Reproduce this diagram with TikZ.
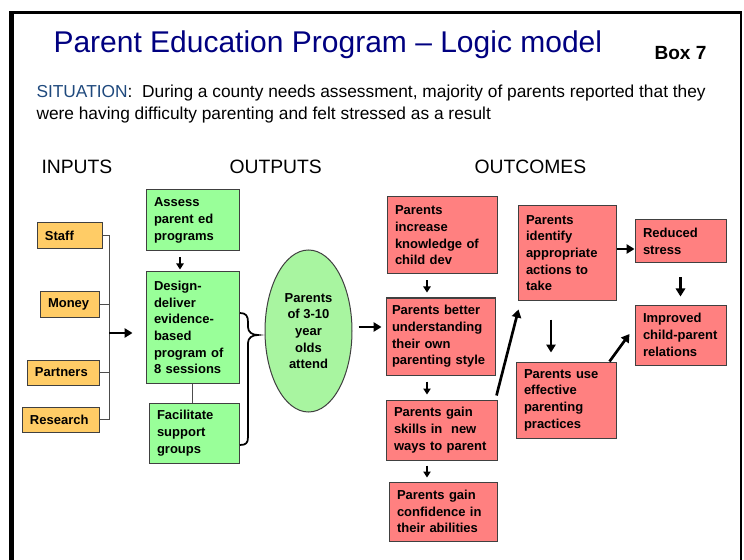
\documentclass[tikz,border=0pt]{standalone}
\usepackage{fontspec}
\setmainfont{Liberation Sans}
\usetikzlibrary{shapes.geometric,arrows.meta,calc}

\definecolor{titleblue}{RGB}{0,0,128}
\definecolor{sitblue}{RGB}{31,73,125}
\definecolor{inorange}{RGB}{255,204,102}
\definecolor{outgreen}{RGB}{153,255,153}
\definecolor{attgreen}{RGB}{168,245,160}
\definecolor{outred}{RGB}{255,128,128}

\tikzset{every picture/.style={line width=0.75pt}}
\tikzset{
  box/.style={draw=black!75, line width=0.75pt, inner xsep=6pt, inner ysep=0pt, align=left, font=\fontsize{9.75}{12.5}\selectfont\bfseries},
  inbox/.style={box, fill=inorange},
  greenbox/.style={box, fill=outgreen},
  redbox/.style={box, fill=outred},
  head/.style={anchor=base west, inner sep=0pt, font=\fontsize{14.5}{17}\selectfont},
  sit/.style={anchor=base west, inner sep=0pt, font=\fontsize{13}{16}\selectfont},
  bigarr/.style={-{Triangle[length=6pt,width=7pt]}, line width=2pt},
  smallarr/.style={-{Triangle[length=4.5pt,width=5.5pt]}, line width=1.3pt},
  link/.style={draw=black!70, line width=0.75pt},
}

\begin{document}
\begin{tikzpicture}[x=0.75pt,y=0.75pt,yscale=-1,xscale=1]
		\useasboundingbox (0,0) rectangle (744,560);

		%Frame
		\draw[line width=3.75pt] (11,12) -- (11,560) ;
		\draw[line width=2.25pt] (9,12.5) -- (742,12.5) ;
		\draw[line width=1.1pt] (741,12) -- (741,560) ;

		% Text Node
		\node[anchor=base west, inner sep=0pt, text=titleblue, font=\fontsize{22.5}{27}\selectfont] (title) at (53,53) {Parent Education Program -- Logic model};
		% Text Node
		\node[anchor=base west, inner sep=0pt, font=\fontsize{14.3}{17}\selectfont\bfseries] (boxno) at (654,60) {Box 7};
		% Text Node
		\node[sit] (sit1) at (36,98) {\textcolor{sitblue}{SITUATION}:\ \ During a county needs assessment, majority of parents reported that they};
		% Text Node
		\node[sit] (sit2) at (36,120) {were having difficulty parenting and felt stressed as a result};

		% Text Node
		\node[head] (inputs) at (41,174) {INPUTS};
		% Text Node
		\node[head] (outputs) at (229,174) {OUTPUTS};
		% Text Node
		\node[head] (outcomes) at (474,174) {OUTCOMES};

		%Shape: Rectangle [inputs]
		\node[inbox, text width=36.75pt, minimum height=19.5pt] (staff) at (69.5,236) {Staff};
		\node[inbox, text width=32.25pt, minimum height=18.75pt] (money) at (69.5,304.5) {Money};
		\node[inbox, text width=42pt, minimum height=18.75pt] (partners) at (63,372.5) {Partners};
		\node[inbox, text width=45.75pt, minimum height=18.75pt] (research) at (60.5,419.5) {Research};

		%Shape: Rectangle [outputs]
		\node[greenbox, text width=57.75pt, minimum height=45.75pt] (assess) at (192.5,220.5) {Assess\\parent ed\\programs};
		\node[greenbox, text width=57.75pt, minimum height=83.25pt] (design) at (192.5,327.5) {Design-\\deliver\\evidence-\\based\\program of\\8 sessions};
		\node[greenbox, text width=55.5pt, minimum height=45pt] (facilitate) at (194,433) {Facilitate\\support\\groups};

		%Shape: Ellipse
		\node[ellipse, draw=black!75, fill=attgreen, minimum width=65.25pt, minimum height=121.5pt, inner sep=0pt, align=center, font=\fontsize{9.75}{12.5}\selectfont\bfseries] (attend) at (308.5,331) {Parents\\of 3-10\\year\\olds\\attend};

		%Shape: Rectangle [outcomes]
		\node[redbox, text width=70.5pt, minimum height=57.75pt] (know) at (442,235.5) {Parents\\increase\\knowledge of\\child dev};
		\node[redbox, inner xsep=4.5pt, text width=72.75pt, minimum height=57.75pt] (understand) at (440.5,336.5) {Parents better\\understanding\\their own\\parenting style};
		\node[redbox, text width=71.25pt, minimum height=45pt] (skills) at (441.5,430) {Parents gain\\skills in\ \ new\\ways to parent};
		\node[redbox, text width=69pt, minimum height=44.25pt] (confidence) at (443,511.5) {Parents gain\\confidence in\\their abilities};
		\node[redbox, text width=61.5pt, minimum height=70.5pt] (identify) at (567,253) {Parents\\identify\\appropriate\\actions to\\take};
		\node[redbox, text width=63pt, minimum height=57pt] (use) at (566,400) {Parents use\\effective\\parenting\\practices};
		\node[redbox, text width=56.25pt, minimum height=32.25pt] (reduced) at (680.5,241.5) {Reduced\\stress};
		\node[redbox, text width=56.25pt, minimum height=45pt] (improved) at (680.5,335) {Improved\\child-parent\\relations};

		%Straight Lines [inputs]
		\coordinate (brx) at (109,0);
		\draw[link] (staff.east) -- (staff.east -| brx) -- (research.east -| brx) -- (research.east) ;
		\draw[link] (money.east) -- (money.east -| brx) ;
		\draw[link] (partners.east) -- (partners.east -| brx) ;
		\coordinate (inarr) at (109,333);
		\draw[bigarr, shorten >=9.75pt] (inarr) -- (inarr -| design.west) ;

		%Straight Lines [outputs]
		\draw[smallarr] ($(assess.south)+(-12.5,6)$) -- ($(design.north)+(-12.5,-2)$) ;
		\draw[link] (design.south) -- (design.south |- facilitate.north) ;
		%Brace
		\draw[line width=1.3pt] (240,313) .. controls (246,313) and (248,316) .. (248,322) -- (248,327) .. controls (248,332) and (252,335) .. (258,335) .. controls (252,335) and (248,338) .. (248,343) -- (248,437) .. controls (248,443) and (246,445) .. (240,445) ;
		\draw[bigarr] ($(attend.east)+(6,-4)$) -- ($(understand.west)+(-4,-9.5)$) ;

		%Straight Lines [outcomes]
		\draw[smallarr] ($(know.south)+(-15,6)$) -- ($(understand.north)+(-13.5,-5)$) ;
		\draw[smallarr] ($(understand.south)+(-13.5,6)$) -- ($(skills.north)+(-14.5,-5)$) ;
		\draw[smallarr] ($(skills.south)+(-14.5,5)$) -- ($(confidence.north)+(-16,-4)$) ;
		\draw[bigarr] ($(skills.north east)+(-1,-4)$) -- ($(identify.south west)+(1,9)$) ;
		\draw[bigarr] ($(identify.east)+(0,-4)$) -- ($(reduced.west)+(0,7.5)$) ;
		\draw[bigarr] ($(reduced.south)+(0,14)$) -- ($(improved.north)+(0,-8)$) ;
		\draw[bigarr] ($(identify.south)+(-16,19)$) -- ($(use.north)+(-15,-9)$) ;
		\draw[bigarr] ($(use.north east)+(-7,0)$) -- ($(improved.west)+(-5,-1)$) ;

\end{tikzpicture}
\end{document}
